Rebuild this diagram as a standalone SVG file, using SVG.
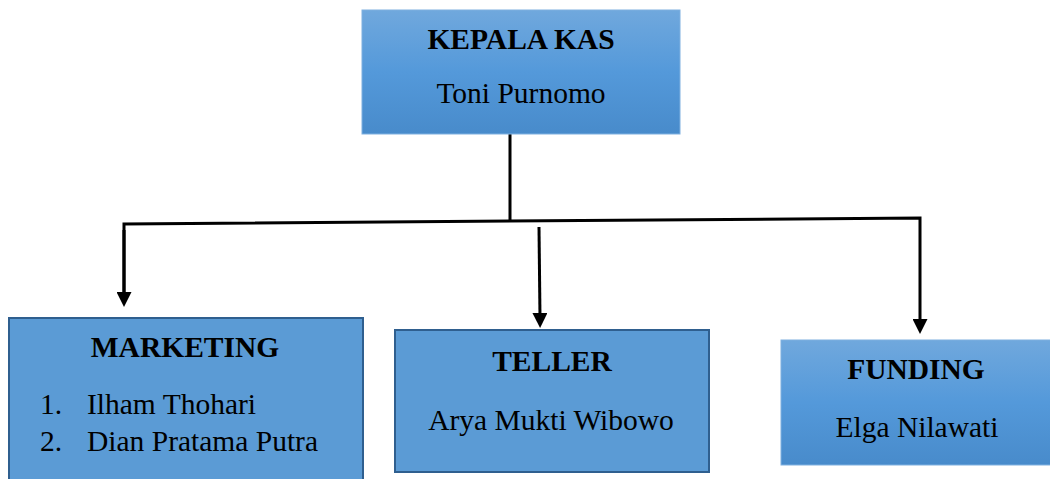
<svg xmlns="http://www.w3.org/2000/svg" width="1050" height="479" viewBox="0 0 1050 479">
<style>
.t{font-family:"Liberation Serif","Times New Roman",serif;font-size:29.5px;fill:#000}
.b{font-weight:bold}
.c{text-anchor:middle}
.grad{fill:url(#g);stroke:#7fb0e0;stroke-width:1}
.flat{fill:#5b9bd5;stroke:#2f5f8f;stroke-width:2}
.ln{fill:none;stroke:#000;stroke-width:3}
</style>
<defs>
<linearGradient id="g" x1="0" y1="0" x2="0" y2="1">
<stop offset="0" stop-color="#70a8dd"/>
<stop offset="0.5" stop-color="#5499da"/>
<stop offset="1" stop-color="#488bcb"/>
</linearGradient>
<marker id="ah" viewBox="0 0 15 15" refX="5" refY="7.5" markerWidth="15" markerHeight="15" markerUnits="userSpaceOnUse" orient="auto">
<path d="M0,0 L15,7.5 L0,15 z" fill="#000"/>
</marker>
</defs>
<g id="connectors">
<path class="ln" d="M510,134 L510,221"/>
<path class="ln" d="M124,297 L124,224 L920,218 L920,324" marker-end="url(#ah)"/>
<path class="ln" d="M124,230 L124,297" marker-end="url(#ah)"/>
<path class="ln" d="M539,227 L540,318" marker-end="url(#ah)"/>
</g>
<g id="kepala">
<rect class="grad" x="362" y="10" width="318" height="124"/>
<text class="t b c" x="521" y="49">KEPALA KAS</text>
<text class="t c" x="521" y="103">Toni Purnomo</text>
</g>
<g id="marketing">
<rect class="flat" x="9" y="318" width="354" height="175"/>
<text class="t b c" x="185" y="357">MARKETING</text>
<text class="t" x="40" y="414">1.</text>
<text class="t" x="87" y="414">Ilham Thohari</text>
<text class="t" x="40" y="451">2.</text>
<text class="t" x="87" y="451">Dian Pratama Putra</text>
</g>
<g id="teller">
<rect class="flat" x="395" y="330" width="314" height="142"/>
<text class="t b c" x="552" y="371">TELLER</text>
<text class="t c" x="551" y="430">Arya Mukti Wibowo</text>
</g>
<g id="funding">
<rect class="grad" x="781" y="340" width="270" height="125"/>
<text class="t b c" x="916" y="379">FUNDING</text>
<text class="t c" x="917" y="437">Elga Nilawati</text>
</g>
</svg>
